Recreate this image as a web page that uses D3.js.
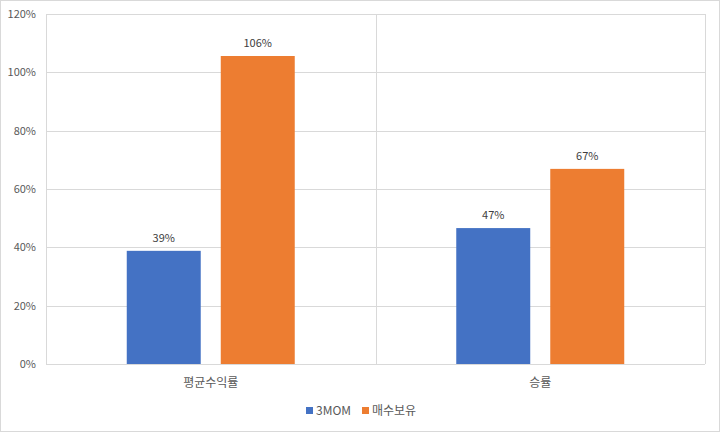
<!DOCTYPE html>
<html>
<head>
<meta charset="utf-8">
<script src="https://cdn.jsdelivr.net/npm/d3@7"></script>
<style>
  body { margin: 0; background: #fff; }
  text { font-family: "Noto Sans CJK KR", "Noto Sans", sans-serif; }
</style>
</head>
<body>
<div id="chart"></div>
<script>
const categories = ['평균수익률', '승률']
const seriesNames = ['3MOM', '매수보유']
const mom = [0.388, 0.466]
const buyHold = [1.056, 0.669]
const yTicks = [0, 0.2, 0.4, 0.6, 0.8, 1.0, 1.2]
const colors = ['#4472C4', '#ED7D31']

const W = 720, H = 432
const MARGIN = {TOP: 14, BOTTOM: 68, LEFT: 46, RIGHT: 15}

const svg = d3.select('#chart').append('svg')
    .attr('width', W)
    .attr('height', H)

// outer frame
svg.append('rect')
    .attr('x', 0.5).attr('y', 0.5)
    .attr('width', W - 1).attr('height', H - 1)
    .attr('fill', '#fff')
    .attr('stroke', '#d9d9d9')

const x = d3.scaleBand()
    .domain(categories)
    .range([MARGIN.LEFT, W - MARGIN.RIGHT])

const xs = d3.scaleBand()
    .domain(seriesNames)
    .range([0, x.bandwidth()])
    .paddingInner(0.213)
    .paddingOuter(0.859)

const y = d3.scaleLinear()
    .domain([0, 1.2])
    .range([H - MARGIN.BOTTOM, MARGIN.TOP])

// gridlines
svg.append('g').selectAll('line')
    .data(yTicks)
    .enter().append('line')
    .attr('x1', MARGIN.LEFT).attr('x2', W - MARGIN.RIGHT)
    .attr('y1', d => Math.round(y(d)) + 0.5)
    .attr('y2', d => Math.round(y(d)) + 0.5)
    .attr('stroke', '#d9d9d9')

// vertical lines: plot edges and category divider
const vLines = [MARGIN.LEFT, x(categories[1]), W - MARGIN.RIGHT]
svg.append('g').selectAll('line')
    .data(vLines)
    .enter().append('line')
    .attr('x1', d => Math.round(d) + 0.5).attr('x2', d => Math.round(d) + 0.5)
    .attr('y1', MARGIN.TOP).attr('y2', H - MARGIN.BOTTOM)
    .attr('stroke', '#d9d9d9')

// y tick labels
svg.append('g').selectAll('text')
    .data(yTicks)
    .enter().append('text')
    .attr('x', 36)
    .attr('y', d => y(d) + 4)
    .attr('text-anchor', 'end')
    .attr('font-size', 11)
    .attr('fill', '#595959')
    .text(d3.format('.0%'))

// bars
const data = []
categories.forEach((c, i) => {
    data.push({cat: c, s: seriesNames[0], v: mom[i], color: colors[0]})
    data.push({cat: c, s: seriesNames[1], v: buyHold[i], color: colors[1]})
})

svg.append('g').selectAll('rect')
    .data(data)
    .enter().append('rect')
    .attr('x', d => x(d.cat) + xs(d.s))
    .attr('y', d => y(d.v))
    .attr('width', xs.bandwidth())
    .attr('height', d => y(0) - y(d.v))
    .attr('fill', d => d.color)

// value labels
svg.append('g').selectAll('text')
    .data(data)
    .enter().append('text')
    .attr('x', d => x(d.cat) + xs(d.s) + xs.bandwidth() / 2)
    .attr('y', d => y(d.v) - 9)
    .attr('text-anchor', 'middle')
    .attr('font-size', 11)
    .attr('fill', '#404040')
    .text(d => Math.round(d.v * 100) + '%')

// category labels
svg.append('g').selectAll('text')
    .data(categories)
    .enter().append('text')
    .attr('x', d => x(d) + x.bandwidth() / 2)
    .attr('y', 387)
    .attr('text-anchor', 'middle')
    .attr('font-size', 12)
    .attr('fill', '#595959')
    .text(d => d)

// legend
const legendX = [306, 362]
const legend = svg.append('g')
seriesNames.forEach((s, i) => {
    legend.append('rect')
        .attr('x', legendX[i]).attr('y', 407)
        .attr('width', 7).attr('height', 7)
        .attr('fill', colors[i])
    legend.append('text')
        .attr('x', legendX[i] + 10).attr('y', 415)
        .attr('font-size', 12)
        .attr('fill', '#595959')
        .text(s)
})
</script>
</body>
</html>
